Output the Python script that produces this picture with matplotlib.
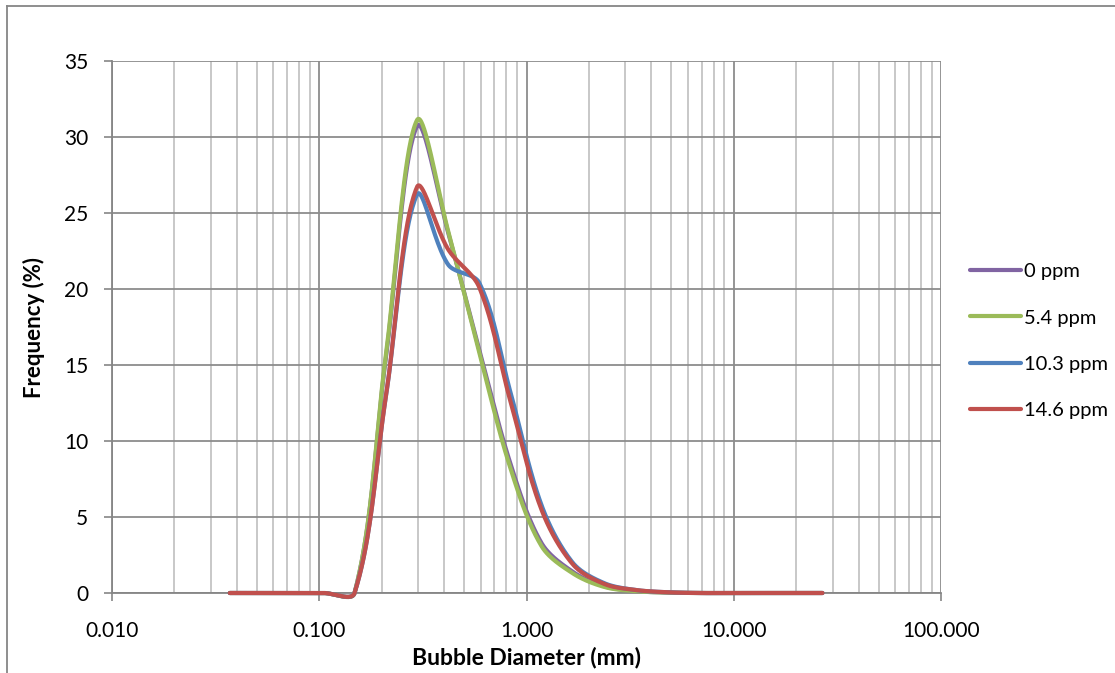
import numpy as np
import matplotlib.pyplot as plt
from matplotlib.lines import Line2D

plt.rcParams['font.family'] = ['Lato', 'DejaVu Sans']

# bubble diameter bins (mm)
sizes = [0.037, 0.052, 0.074, 0.105, 0.148, 0.209, 0.296, 0.419, 0.592, 0.837,
         1.18, 1.67, 2.37, 3.35, 4.74, 6.70, 9.47, 13.4, 18.9, 26.8]

freq_0 = [0, 0, 0, 0, 0, 15.3, 30.7, 23.7, 16.0, 8.5, 3.3, 1.4, 0.45, 0.13, 0.03, 0, 0, 0, 0, 0]
freq_54 = [0, 0, 0, 0, 0, 15.5, 31.1, 23.8, 15.8, 8.2, 3.1, 1.3, 0.4, 0.12, 0.03, 0, 0, 0, 0, 0]
freq_103 = [0, 0, 0, 0, 0, 12.8, 26.2, 21.6, 20.4, 13.2, 5.8, 2.0, 0.65, 0.2, 0.05, 0, 0, 0, 0, 0]
freq_146 = [0, 0, 0, 0, 0, 12.8, 26.7, 22.6, 20.1, 12.6, 5.5, 1.9, 0.6, 0.2, 0.05, 0, 0, 0, 0, 0]

labels = ['0 ppm', '5.4 ppm', '10.3 ppm', '14.6 ppm']
colors = ['#8064A2', '#9BBB59', '#4F81BD', '#C0504D']


def smooth(xs, ys, n=40):
    # smoothed line like excel: bezier, control arms scaled by segment length
    P = np.column_stack([np.log10(xs) * 207.3, np.asarray(ys, float) * 15.2])
    m = len(P)
    L = np.linalg.norm(np.diff(P, axis=0), axis=1)
    px, py = [], []
    for i in range(m - 1):
        i0 = max(i - 1, 0)
        i3 = min(i + 2, m - 1)
        d1 = P[i + 1] - P[i0]
        d2 = P[i3] - P[i]
        la = L[i - 1] if i > 0 else L[i]
        lb = L[i + 1] if i + 1 < m - 1 else L[i]
        c1 = P[i] + d1 * L[i] / (la + L[i]) / 3
        c2 = P[i + 1] - d2 * L[i] / (L[i] + lb) / 3
        t = np.linspace(0, 1, n)[:, None]
        b = (1 - t) ** 3 * P[i] + 3 * (1 - t) ** 2 * t * c1 + 3 * (1 - t) * t ** 2 * c2 + t ** 3 * P[i + 1]
        px.extend(b[:, 0])
        py.extend(b[:, 1])
    return 10 ** (np.array(px) / 207.3), np.array(py) / 15.2


fig = plt.figure(figsize=(11.15, 6.73), dpi=100)
ax = fig.add_axes([112 / 1115, 1 - 593 / 673, (941 - 112) / 1115, (593 - 61) / 673])

for ys, c, lab in zip([freq_0, freq_54, freq_103, freq_146], colors, labels):
    sx, sy = smooth(sizes, ys)
    ax.plot(sx, sy, color=c, lw=3, label=lab, clip_on=False, solid_capstyle='round', zorder=3)

ax.set_xscale('log')
ax.set_xlim(0.01, 100)
ax.set_ylim(0, 35)
ax.set_yticks(range(0, 36, 5))
ax.set_xticks([0.01, 0.1, 1, 10, 100])
ax.set_xticklabels(['0.010', '0.100', '1.000', '10.000', '100.000'])
ax.tick_params(axis='both', labelsize=15, color='#868686', length=6, width=1.2)
ax.tick_params(axis='x', pad=14)
ax.tick_params(axis='y', pad=11)
ax.tick_params(axis='x', which='minor', length=0)

ax.grid(True, which='major', axis='both', color='#8c8c8c', lw=1.3)
ax.grid(True, which='minor', axis='x', color='#c4c4c4', lw=1.3)
ax.set_axisbelow(True)
for s in ['top', 'right']:
    ax.spines[s].set_visible(False)
for s in ['left', 'bottom']:
    ax.spines[s].set_color('#868686')
    ax.spines[s].set_linewidth(1.3)

ax.set_xlabel('Bubble Diameter (mm)', fontsize=16.5, fontweight='bold', labelpad=4)
ax.set_ylabel('Frequency (%)', fontsize=16, fontweight='bold', labelpad=14)

handles = [Line2D([0], [0], color=c, lw=3, solid_capstyle='round') for c in colors]
fig.legend(handles, labels, loc='upper left', bbox_to_anchor=(954 / 1115, 1 - 247 / 673),
           frameon=False, fontsize=14.5, handlelength=2.55, handletextpad=0.15,
           labelspacing=1.45, borderpad=0.3)

# chart area border
fig.add_artist(Line2D([7 / 1115, 7 / 1115], [0, 1 - 6 / 673], color='#868686', lw=1.3))
fig.add_artist(Line2D([7 / 1115, 1], [1 - 6 / 673, 1 - 6 / 673], color='#868686', lw=1.3))

fig.savefig('out.png', dpi=100)
